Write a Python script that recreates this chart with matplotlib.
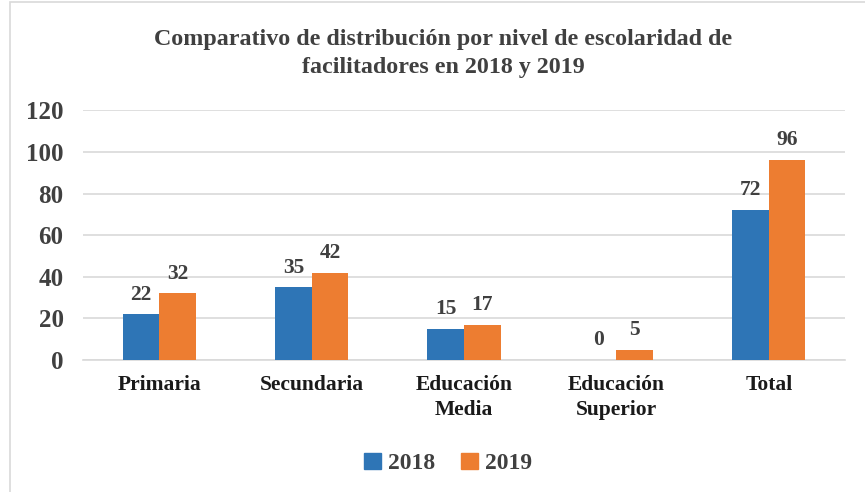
import numpy as np
import matplotlib
matplotlib.use('Agg')
import matplotlib.pyplot as plt
import matplotlib.patches as mpatches

CATEGORIES = ['Primaria', 'Secundaria', 'Educación\nMedia',
              'Educación\nSuperior', 'Total']
VALUES_2018 = [22, 35, 15, 0, 72]
VALUES_2019 = [32, 42, 17, 5, 96]
SERIES = ['2018', '2019']
Y_TICKS = [0, 20, 40, 60, 80, 100, 120]
TITLE = ('Comparativo de distribución por nivel de escolaridad de\n'
         'facilitadores en 2018 y 2019')

COLORS = ('#2E75B6', '#ED7D31')
TEXT_COLOR = '#404040'
GRID_COLOR = '#D9D9D9'

plt.rcParams['font.family'] = ['Liberation Serif', 'DejaVu Serif']
plt.rcParams['font.weight'] = 'bold'

fig = plt.figure(figsize=(8.65, 4.92), dpi=100)
ax = fig.add_axes([0.096, 0.268, 0.881, 0.508])

x = np.arange(len(CATEGORIES))
width = 0.24

bars_a = ax.bar(x - width / 2, VALUES_2018, width, color=COLORS[0],
                label=SERIES[0], zorder=3)
bars_b = ax.bar(x + width / 2, VALUES_2019, width, color=COLORS[1],
                label=SERIES[1], zorder=3)

for bars in (bars_a, bars_b):
    for b in bars:
        ax.annotate(f'{b.get_height():g}',
                    (b.get_x() + b.get_width() / 2, b.get_height()),
                    xytext=(0, 7), textcoords='offset points',
                    ha='center', va='bottom', fontsize=15.5,
                    fontweight='bold', color=TEXT_COLOR)

ax.set_xlim(-0.5, len(CATEGORIES) - 0.5)
ax.set_ylim(0, 120)
ax.set_yticks(Y_TICKS)
ax.set_xticks(x)
ax.set_xticklabels(CATEGORIES, fontsize=15.5, fontweight='bold',
                   color='#1a1a1a', linespacing=1.3)
ax.tick_params(axis='y', labelsize=18, colors=TEXT_COLOR, length=0, pad=14)
ax.tick_params(axis='x', length=0, pad=11)
for lbl in ax.get_yticklabels():
    lbl.set_fontweight('bold')

ax.grid(axis='y', color=GRID_COLOR, lw=1.2, zorder=0)
for side in ('top', 'right', 'left'):
    ax.spines[side].set_visible(False)
ax.spines['bottom'].set_color(GRID_COLOR)
ax.spines['bottom'].set_linewidth(1.2)

fig.text(0.512, 0.891, TITLE, ha='center', va='center', fontsize=17.3,
         fontweight='bold', color=TEXT_COLOR, linespacing=1.4)

handles = [mpatches.Patch(color=c) for c in COLORS]
fig.legend(handles, SERIES, loc='center', bbox_to_anchor=(0.518, 0.058),
           ncol=2, frameon=False, fontsize=17, handlelength=0.7,
           handleheight=0.7, handletextpad=0.3, columnspacing=1.1,
           labelcolor=TEXT_COLOR)

# light frame, only left and top edges visible in the crop
fig.patches.append(mpatches.Rectangle(
    (10 / 865, -0.5), 2, 1.5 - 2 / 492, transform=fig.transFigure,
    fill=False, edgecolor=GRID_COLOR, lw=1.2))

fig.savefig('out.png', dpi=100)
